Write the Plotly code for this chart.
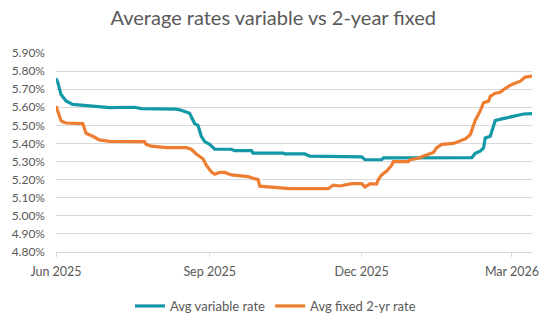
import plotly.graph_objects as go

# Avg variable rate
var_dates = [
    "2025-06-01", "2025-06-02", "2025-06-04", "2025-06-07", "2025-06-11", "2025-06-23",
    "2025-07-03", "2025-07-18", "2025-07-22", "2025-08-12", "2025-08-15", "2025-08-20",
    "2025-08-23", "2025-08-25", "2025-08-27", "2025-08-29", "2025-09-01", "2025-09-04",
    "2025-09-14", "2025-09-16", "2025-09-26", "2025-09-27", "2025-10-15", "2025-10-16",
    "2025-10-28", "2025-10-31", "2025-12-01", "2025-12-03", "2025-12-13", "2025-12-14",
    "2026-02-03", "2026-02-05", "2026-02-07", "2026-02-10", "2026-02-12", "2026-02-13",
    "2026-02-16", "2026-02-18", "2026-02-19", "2026-02-23", "2026-03-03", "2026-03-08",
    "2026-03-13",
]
var_rates = [
    5.76, 5.74, 5.67, 5.635, 5.616, 5.607,
    5.598, 5.600, 5.593, 5.590, 5.584, 5.567,
    5.510, 5.500, 5.440, 5.410, 5.395, 5.368,
    5.368, 5.360, 5.360, 5.347, 5.347, 5.342,
    5.342, 5.330, 5.326, 5.310, 5.310, 5.320,
    5.318, 5.322, 5.345, 5.357, 5.375, 5.430,
    5.440, 5.490, 5.527, 5.536, 5.550, 5.563,
    5.565,
]

# Avg fixed 2-yr rate
fix_dates = [
    "2025-06-01", "2025-06-02", "2025-06-04", "2025-06-05", "2025-06-07", "2025-06-17",
    "2025-06-19", "2025-06-23", "2025-06-27", "2025-07-03", "2025-07-24", "2025-07-25",
    "2025-07-28", "2025-08-06", "2025-08-18", "2025-08-21", "2025-08-24", "2025-08-28",
    "2025-08-30", "2025-09-02", "2025-09-04", "2025-09-07", "2025-09-10", "2025-09-14",
    "2025-09-24", "2025-09-26", "2025-09-30", "2025-10-01", "2025-10-15", "2025-10-19",
    "2025-11-11", "2025-11-14", "2025-11-18", "2025-11-25", "2025-12-01", "2025-12-03",
    "2025-12-06", "2025-12-10", "2025-12-11", "2025-12-13", "2025-12-16", "2025-12-19",
    "2025-12-20", "2025-12-29", "2025-12-30", "2026-01-04", "2026-01-08", "2026-01-13",
    "2026-01-15", "2026-01-18", "2026-01-25", "2026-01-28", "2026-02-01", "2026-02-04",
    "2026-02-06", "2026-02-07", "2026-02-10", "2026-02-12", "2026-02-15", "2026-02-16",
    "2026-02-19", "2026-02-22", "2026-02-25", "2026-03-01", "2026-03-06", "2026-03-09",
    "2026-03-13",
]
fix_rates = [
    5.607, 5.580, 5.527, 5.520, 5.513, 5.510,
    5.456, 5.440, 5.420, 5.412, 5.410, 5.395,
    5.385, 5.377, 5.377, 5.368, 5.342, 5.315,
    5.280, 5.243, 5.230, 5.240, 5.240, 5.226,
    5.217, 5.210, 5.200, 5.164, 5.155, 5.150,
    5.150, 5.170, 5.165, 5.178, 5.178, 5.160,
    5.177, 5.177, 5.200, 5.226, 5.247, 5.280,
    5.300, 5.300, 5.310, 5.318, 5.333, 5.350,
    5.377, 5.395, 5.400, 5.410, 5.425, 5.448,
    5.510, 5.527, 5.580, 5.625, 5.634, 5.660,
    5.678, 5.683, 5.705, 5.726, 5.744, 5.767,
    5.772,
]

series_names = ["Avg variable rate", "Avg fixed 2-yr rate"]
series_colors = ["#1398A8", "#ED7D31"]
title_text = "Average rates variable vs 2-year fixed"

GREY = "#595959"
GRID = "#D9D9D9"
FONT = "Lato, Open Sans, sans-serif"

fig = go.Figure()
fig.add_trace(go.Scatter(x=var_dates, y=var_rates, mode="lines", name=series_names[0],
                         line=dict(color=series_colors[0], width=3.2)))
fig.add_trace(go.Scatter(x=fix_dates, y=fix_rates, mode="lines", name=series_names[1],
                         line=dict(color=series_colors[1], width=3.2)))

fig.update_layout(
    width=551, height=321,
    margin=dict(l=53, r=17, t=53, b=61),
    paper_bgcolor="white", plot_bgcolor="white",
    font=dict(family=FONT, size=12, color=GREY),
    title=dict(text=title_text, x=0.496, xanchor="center", xref="container",
               y=1 - 18 / 321, yref="container", yanchor="middle",
               font=dict(family=FONT, size=20, color=GREY)),
    legend=dict(orientation="h", x=0.5, xanchor="center", xref="container",
                y=1 - 306 / 321, yref="container", yanchor="middle",
                font=dict(family=FONT, size=13, color=GREY),
                itemwidth=30, tracegroupgap=0),
    showlegend=True,
)
fig.update_xaxes(
    type="date", range=["2025-06-01", "2026-03-13"],
    tick0="2025-06-01", dtick="M3", tickformat="%b %Y",
    showgrid=False, showline=True, linecolor=GRID, linewidth=1,
    ticks="outside", ticklen=4, tickcolor=GRID, ticklabelstandoff=4,
    tickfont=dict(family=FONT, size=12.5, color=GREY),
    zeroline=False,
)
fig.update_yaxes(
    range=[4.80, 5.90], dtick=0.1, tick0=4.8, tickformat=".2f", ticksuffix="%",
    showgrid=True, gridcolor=GRID, gridwidth=1,
    showline=False, zeroline=False, ticks="", ticklabelstandoff=10,
    tickfont=dict(family=FONT, size=12, color=GREY),
)

fig.write_html("out.html")
